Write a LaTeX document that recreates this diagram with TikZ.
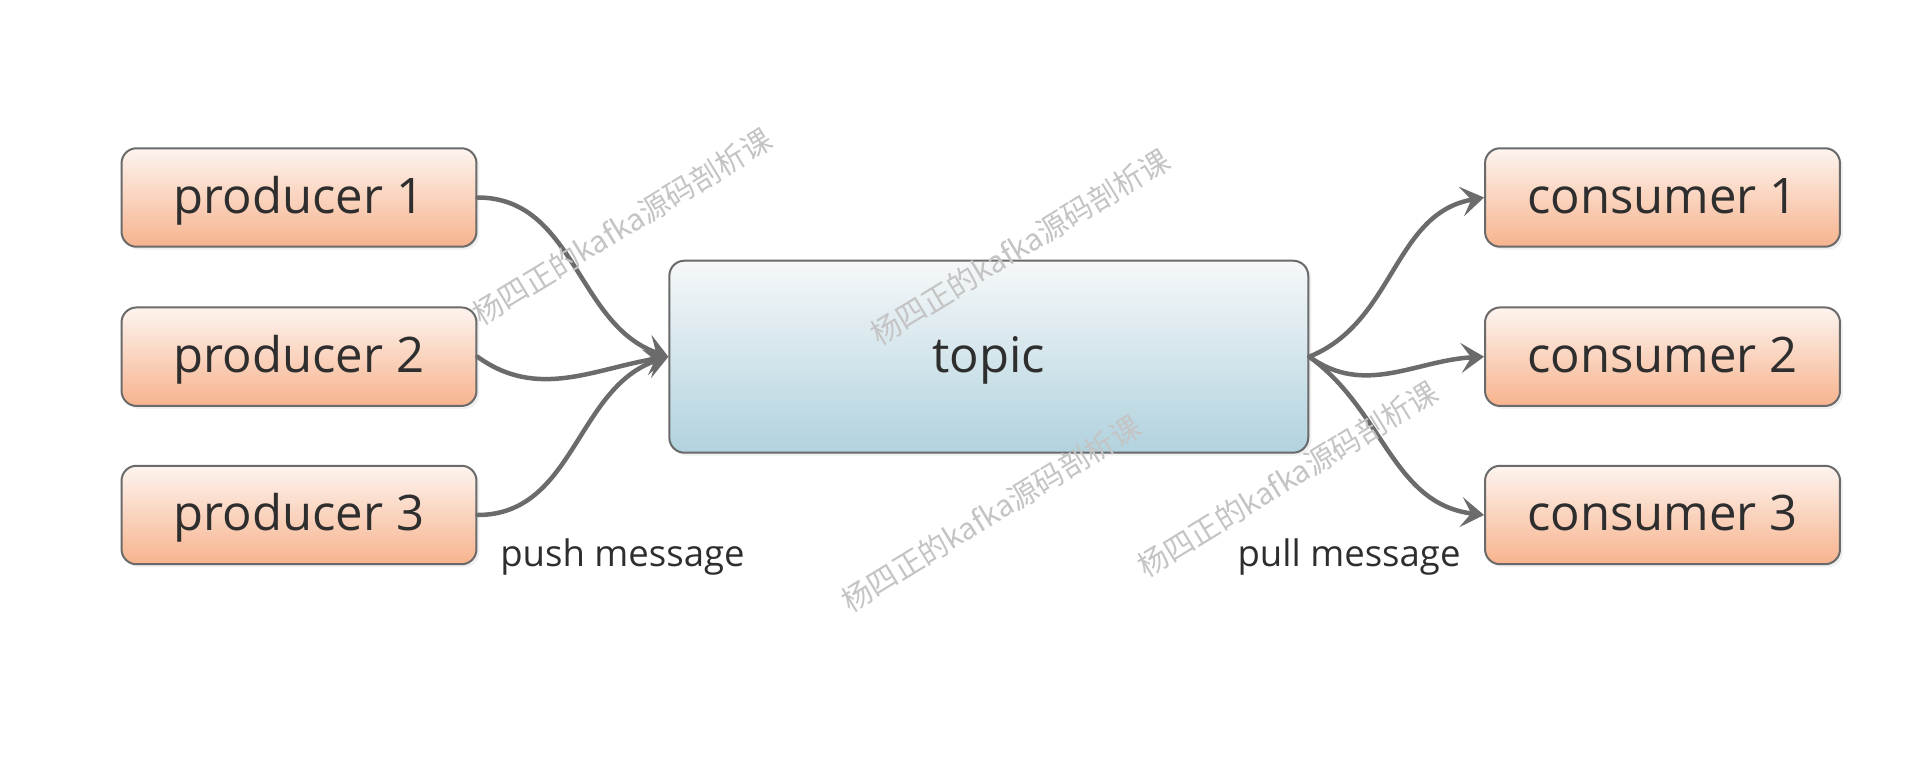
\documentclass[tikz,border=0pt]{standalone}
\usepackage{fontspec}
\setmainfont{Open Sans}
\newfontfamily\cjk{Noto Sans CJK SC}
\usepackage{tikz}
\usetikzlibrary{arrows.meta,shadows}

\definecolor{boxline}{HTML}{6A6A6A}
\definecolor{linkgray}{HTML}{6B6B6B}
\definecolor{txt}{HTML}{2E2E2E}
\definecolor{peachtop}{HTML}{FDF4EF}
\definecolor{peachbot}{HTML}{F7B38D}
\definecolor{bluetop}{HTML}{F6F8F9}
\definecolor{bluebot}{HTML}{B1D2DE}
\definecolor{wmgray}{HTML}{C4C4C4}

\begin{document}
\begin{tikzpicture}[x=0.02cm,y=-0.02cm]
        \tikzstyle{every node} = [rectangle, text=txt]
        \tikzstyle{box} = [draw=boxline, line width=0.04cm, rounded corners=0.3cm, inner sep=0pt,
            font=\fontsize{27.9}{33}\selectfont, text height=25.1pt, text depth=7pt,
            drop shadow={shadow xshift=0.06cm, shadow yshift=-0.06cm, opacity=0.12}]
        \tikzstyle{peer} = [box, minimum width=7.1cm, minimum height=1.97cm, top color=peachtop, bottom color=peachbot]
        \tikzstyle{queue} = [box, minimum width=12.78cm, minimum height=3.84cm, top color=bluetop, bottom color=bluebot]
        \tikzstyle{link} = [draw=linkgray, line width=0.09cm, line cap=round,
            -{Stealth[length=0.46cm, width=0.6cm, inset=0.2cm]}]
        \tikzstyle{note} = [font=\fontsize{20.8}{25}\selectfont, anchor=base]
        \tikzstyle{wm} = [text=wmgray, font=\cjk\fontsize{17}{20}\selectfont, rotate=31.5]

        \useasboundingbox (0,0) rectangle (1906,757);

        \node[peer] (p1) at (299,197.5) {producer 1};
        \node[peer] (p2) at (299,356.7) {producer 2};
        \node[peer] (p3) at (299,515) {producer 3};
        \node[queue] (t) at (988.8,356.7) {topic};
        \node[peer] (c1) at (1662.5,197.5) {consumer 1};
        \node[peer] (c2) at (1662.5,356.7) {consumer 2};
        \node[peer] (c3) at (1662.5,515) {consumer 3};

        \foreach \from/\o/\i in {p1/0/161, p2/-36/189, p3/0/198}
            \draw[link] (\from.east) to[out=\o, in=\i] (t.west);
        \foreach \to/\o/\i in {c1/22/190, c2/-36/183, c3/-36/173}
            \draw[link] (t.east) to[out=\o, in=\i] (\to.west);

        \node[note] (push) at (622.5,566.7) {push message};
        \node[note] (pull) at (1349,566.7) {pull message};

        % watermark
        \foreach \x/\y [count=\n] in {622/226.5, 1020/246.7, 991/513.3, 1287.7/479}
            \node[wm] (wm\n) at (\x,\y) {杨四正的kafka源码剖析课};
    \end{tikzpicture}
\end{document}
